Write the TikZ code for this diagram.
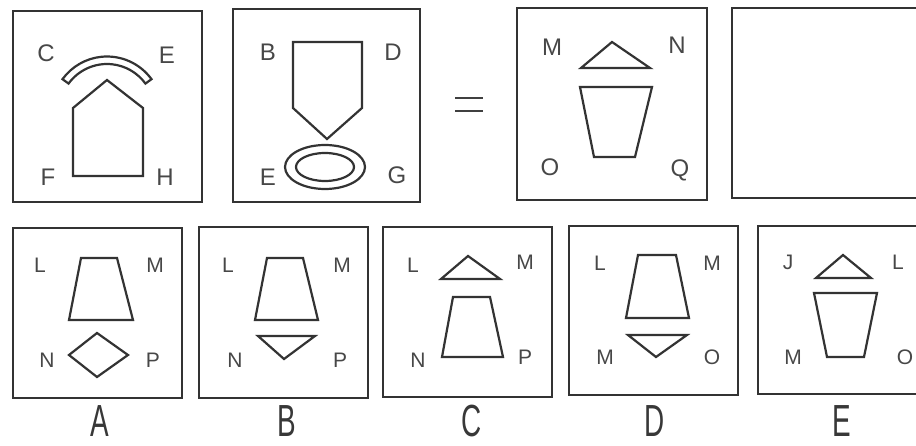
\documentclass[tikz,border=0pt]{standalone}
\usepackage{fontspec}
\setmainfont{Liberation Sans}
\newfontfamily\bigfont[FakeStretch=0.62]{Liberation Sans}
\begin{document}
\begin{tikzpicture}[x=1pt,y=-1pt,
  frame/.style={draw=black!80,line width=2.7pt},
  shp/.style={draw=black!80,line width=2.2pt,line join=miter},
  lbl/.style={text=black!72,font=\fontsize{24}{24}\selectfont,inner sep=0pt,anchor=center},
  slbl/.style={text=black!72,font=\fontsize{21}{21}\selectfont,inner sep=0pt,anchor=center},
  big/.style={text=black!78,font=\bigfont\fontsize{45}{45}\selectfont,inner sep=0pt,anchor=center}]
\useasboundingbox (0,0) rectangle (916,446);
% ---- top row frames
\draw[frame] (13,11) rectangle (202,202);
\draw[frame] (233,9) rectangle (420,202);
\draw[frame] (517,8) rectangle (707,200);
\draw[frame] (916,8) -- (732,8) -- (732,198) -- (916,198);
% equals sign
\draw[black!75,line width=2.6pt] (455,98) -- (483,98) (455,111) -- (483,111);
% ---- box 1
\node[lbl] (c1) at (46,53) {C};
\node[lbl] (e1) at (167,55) {E};
\node[lbl] (f1) at (48,177) {F};
\node[lbl] (h1) at (165,177) {H};
\draw[shp] (107,111.5) ++(-36:55) arc (-36:-144:55) -- ++(36:7.5) arc (-144:-36:47.5) -- cycle;
\draw[shp] (73,176) -- (143,176) -- (143,108) -- (107,80) -- (73,108) -- cycle;
% ---- box 2
\node[lbl] (b2) at (268,52) {B};
\node[lbl] (d2) at (393,52) {D};
\node[lbl] (e2) at (268,177) {E};
\node[lbl] (g2) at (397,175) {G};
\draw[shp] (293,42) -- (362,42) -- (362,108) -- (327,139) -- (293,108) -- cycle;
\draw[shp] (325,167) ellipse (40 and 22);
\draw[shp] (325,167) ellipse (29 and 14);
% ---- box 3
\node[lbl] (m3) at (552,47) {M};
\node[lbl] (n3) at (677,45) {N};
\node[lbl] (o3) at (550,167) {O};
\node[lbl] (q3) at (680,170) {Q};
\draw[shp] (581,68) -- (650,68) -- (612,42) -- cycle;
\draw[shp] (580,87) -- (652,87) -- (635,157) -- (594,157) -- cycle;
% ---- bottom row frames
\draw[frame] (13,228) rectangle (182,398);
\draw[frame] (199,227) rectangle (368,398);
\draw[frame] (383,227) rectangle (552,397);
\draw[frame] (569,226) rectangle (738,395);
\draw[frame] (916,226) -- (758,226) -- (758,394) -- (916,394);
% ---- A
\node[slbl] (la) at (40,265) {L};
\node[slbl] (ma) at (155,265) {M};
\node[slbl] (na) at (47,360) {N};
\node[slbl] (pa) at (153,360) {P};
\draw[shp] (81,258) -- (117,258) -- (133,320) -- (69,320) -- cycle;
\draw[shp] (69,355) -- (97,333) -- (128,355) -- (97,377) -- cycle;
% ---- B
\node[slbl] (lb) at (228,265) {L};
\node[slbl] (mb) at (342,265) {M};
\node[slbl] (nb) at (235,360) {N};
\node[slbl] (pb) at (340,360) {P};
\draw[shp] (267,258) -- (303,258) -- (318,320) -- (255,320) -- cycle;
\draw[shp] (258,336) -- (315,336) -- (284,359) -- cycle;
% ---- C
\node[slbl] (lc) at (413,265) {L};
\node[slbl] (mc) at (525,262) {M};
\node[slbl] (nc) at (418,360) {N};
\node[slbl] (pc) at (525,357) {P};
\draw[shp] (441,279) -- (500,279) -- (468,256) -- cycle;
\draw[shp] (453,297) -- (490,297) -- (503,357) -- (442,357) -- cycle;
% ---- D
\node[slbl] (ld) at (600,263) {L};
\node[slbl] (md) at (712,263) {M};
\node[slbl] (md2) at (605,357) {M};
\node[slbl] (od) at (712,357) {O};
\draw[shp] (638,255) -- (676,255) -- (689,318) -- (626,318) -- cycle;
\draw[shp] (628,335) -- (687,335) -- (656,357) -- cycle;
% ---- E
\node[slbl] (je) at (788,262) {J};
\node[slbl] (le) at (898,262) {L};
\node[slbl] (me) at (793,357) {M};
\node[slbl] (oe) at (905,357) {O};
\draw[shp] (816,278) -- (871,278) -- (843,255) -- cycle;
\draw[shp] (814,293) -- (877,293) -- (864,357) -- (827,357) -- cycle;
% ---- option letters
\node[big] (A) at (100,421) {A};
\node[big] (B) at (287,421) {B};
\node[big] (C) at (472,421) {C};
\node[big] (D) at (655,421) {D};
\node[big] (E) at (842,421) {E};
\end{tikzpicture}
\end{document}
